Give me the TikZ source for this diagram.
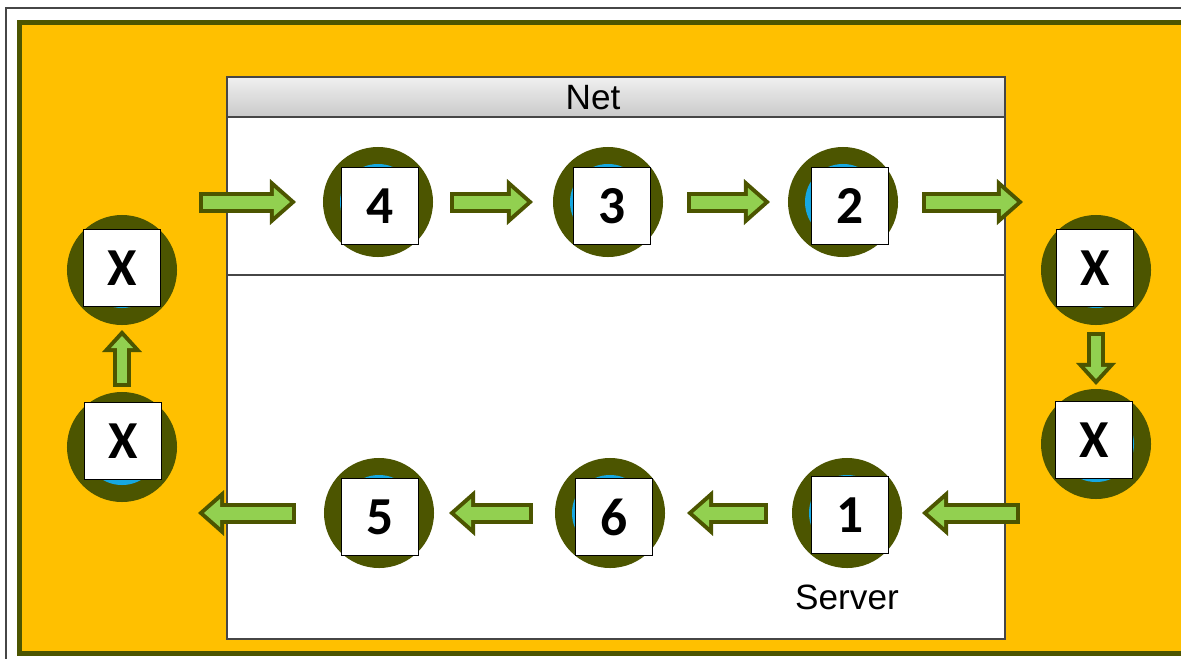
\documentclass[tikz,border=0pt]{standalone}
\usepackage{fontspec}
\setmainfont{Liberation Sans}
\newfontfamily\tagfont{Carlito}
\usetikzlibrary{arrows.meta,positioning}

\definecolor{panelgold}{RGB}{255,192,0}
\definecolor{hubolive}{RGB}{76,85,0}
\definecolor{hubcyan}{RGB}{22,168,226}
\definecolor{flowgreen}{RGB}{146,208,80}
\definecolor{framegray}{RGB}{70,70,70}

\begin{document}
\begin{tikzpicture}[
		x=0.025cm, y=-0.025cm,
		hub/.style={
			circle, fill=hubolive, minimum size=2.75cm, inner sep=0pt,
			path picture={\fill[hubcyan] (path picture bounding box.center) circle (0.95cm);},
		},
		tag/.style={
			draw=black, line width=1pt, fill=white, minimum size=1.925cm, inner sep=0pt,
			font=\tagfont\bfseries\fontsize{38}{40}\selectfont,
		},
		caption/.style={
			inner sep=0pt, font=\fontsize{25}{28}\selectfont,
		},
		flow/.style 2 args={
			draw=flowgreen, line width=0.325cm,
			shorten <=#1+0.1cm, shorten >=#2+0.15cm,
			-{Triangle[length=0.4cm, width=0.7cm, line width=0pt]},
			preaction={draw=hubolive, line width=0.525cm, shorten <=#1, shorten >=#2,
				-{Triangle[length=0.65cm, width=1.15cm, line width=0pt]}},
		},
		flowv/.style 2 args={
			draw=flowgreen, line width=0.25cm,
			shorten <=#1+0.1cm, shorten >=#2+0.15cm,
			-{Triangle[length=0.3cm, width=0.55cm, line width=0pt]},
			preaction={draw=hubolive, line width=0.45cm, shorten <=#1, shorten >=#2,
				-{Triangle[length=0.55cm, width=1cm, line width=0pt]}},
		},
	]
		\useasboundingbox (0,0) rectangle (1181,658);
		\clip (0,0) rectangle (1181,658);
		\fill[white] (0,0) rectangle (1181,658);
		\draw[framegray, line width=0.8pt] (6,8) rectangle (1200,680);
		\draw[fill=panelgold, draw=hubolive, line width=0.125cm] (19.5,22.5) rectangle (1184,653);

		% Net window
		\fill[white] (227,77) rectangle (1005,639);
		\shade[top color=gray!12, bottom color=gray!42] (227,77) rectangle (1005,117);
		\draw[framegray, line width=1.4pt] (227,77) rectangle (1005,639);
		\draw[framegray, line width=1.4pt] (227,117) -- (1005,117);
		\draw[framegray, line width=1pt] (227,275) -- (1005,275);
		\node[caption] (netlabel) at (593,98) {Net};

		% hubs
		\node[hub] (n4) at (378,202) {};
		\node[hub] (n3) at (608,202) {};
		\node[hub] (n2) at (843,202) {};
		\node[hub] (n5) at (379,513) {};
		\node[hub] (n6) at (610,513) {};
		\node[hub] (n1) at (847,513) {};
		\node[hub] (xl1) at (122,270) {};
		\node[hub] (xl2) at (122,447) {};
		\node[hub] (xr1) at (1096,270) {};
		\node[hub] (xr2) at (1096,444) {};

		\node[tag] (t4) at ([shift={(2,4)}]n4.center) {4};
		\node[tag] (t3) at ([shift={(4,4)}]n3.center) {3};
		\node[tag] (t2) at ([shift={(7,4)}]n2.center) {2};
		\node[tag] (t5) at ([shift={(1,4)}]n5.center) {5};
		\node[tag] (t6) at ([shift={(4,4)}]n6.center) {6};
		\node[tag] (t1) at ([shift={(3,2)}]n1.center) {1};
		\node[tag] (txl1) at ([shift={(0,-2)}]xl1.center) {X};
		\node[tag] (txl2) at ([shift={(1,-6)}]xl2.center) {X};
		\node[tag] (txr1) at ([shift={(-1,-2)}]xr1.center) {X};
		\node[tag] (txr2) at ([shift={(-2,-4)}]xr2.center) {X};

		\node[caption, below=0.4cm of n1] (server) {Server};

		% flow
		\draw[flow={1.925cm}{2.05cm}] (xl1 |- n4) -- (n4.center);
		\draw[flow={1.8cm}{1.875cm}] (n4.center) -- (n3.center);
		\draw[flow={1.975cm}{1.825cm}] (n3.center) -- (n2.center);
		\draw[flow={1.975cm}{1.825cm}] (n2.center) -- (xr1 |- n2);
		\draw[flowv={1.55cm}{1.475cm}] (xr1.center) -- (xr2.center);
		\draw[flow={1.9cm}{1.875cm}] (xr2 |- n1) -- (n1.center);
		\draw[flow={1.975cm}{1.925cm}] (n1.center) -- (n6.center);
		\draw[flow={1.925cm}{1.75cm}] (n6.center) -- (n5.center);
		\draw[flow={2.075cm}{1.9cm}] (n5.center) -- (xl2 |- n5);
		\draw[flowv={1.5cm}{1.5cm}] (xl2.center) -- (xl1.center);
	\end{tikzpicture}
\end{document}
